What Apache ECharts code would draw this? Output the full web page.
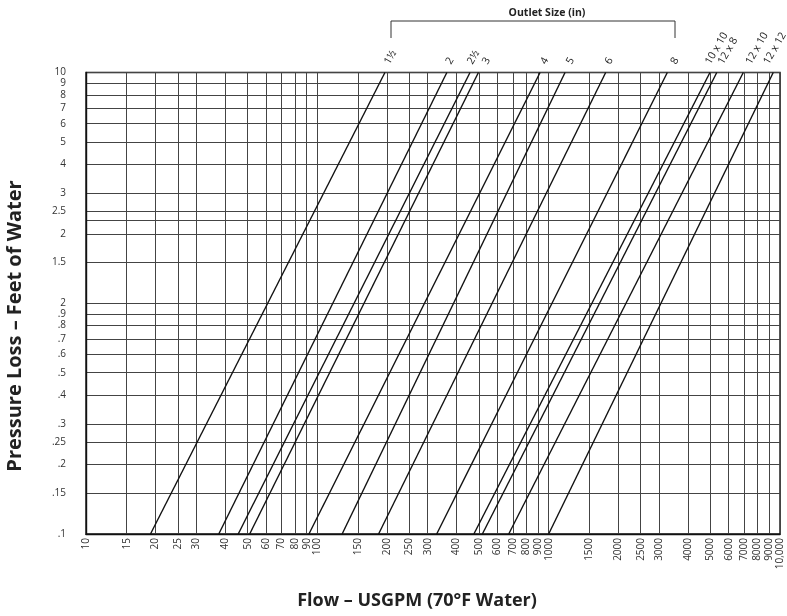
<!DOCTYPE html>
<html><head><meta charset="utf-8">
<script src="https://cdn.jsdelivr.net/npm/echarts@6/dist/echarts.min.js"></script>
<style>html,body{margin:0;padding:0;background:#fff}#c{width:787px;height:616px}</style>
</head><body><div id="c"></div>
<script>
// Outlet sizes (one straight line each on the log-log chart)
const outletSizes = ['1½', '2', '2½', '3', '4', '5', '6', '8', '10 x 10', '12 x 8', '12 x 10', '12 x 12'];
// Flow (USGPM) where each line crosses 0.1 ft and 10 ft of pressure loss
const flowAtLowLoss  = [19, 37.5, 45.5, 51, 92, 128, 184, 328, 475, 517, 672, 1000];
const flowAtHighLoss = [196, 363, 457, 497, 918, 1177, 1764, 3258, 4980, 5330, 6940, 9350];
const lossLow = 0.1;
const lossHigh = 10;

const xTickValues = [10, 15, 20, 25, 30, 40, 50, 60, 70, 80, 90, 100, 150, 200, 250, 300, 400, 500, 600, 700, 800, 900, 1000, 1500, 2000, 2500, 3000, 4000, 5000, 6000, 7000, 8000, 9000, 10000];
const xTickLabels = ['10', '15', '20', '25', '30', '40', '50', '60', '70', '80', '90', '100', '150', '200', '250', '300', '400', '500', '600', '700', '800', '900', '1000', '1500', '2000', '2500', '3000', '4000', '5000', '6000', '7000', '8000', '9000', '10,000'];
const yTickValues = [0.1, 0.15, 0.2, 0.25, 0.3, 0.4, 0.5, 0.6, 0.7, 0.8, 0.9, 1, 1.5, 2, 2.5, 3, 4, 5, 6, 7, 8, 9, 10];
const yTickLabels = ['.1', '.15', '.2', '.25', '.3', '.4', '.5', '.6', '.7', '.8', '.9', '2', '1.5', '2', '2.5', '3', '4', '5', '6', '7', '8', '9', '10'];
const yExtraGridValues = [2.28];

// label nudges (pixels, style only)
const labelNudgeX = [2, 1.5, 0, 6.5, 3, 4, 2, 6, -2, 4, 5, -7];

function lookup(values, labels) {
  return function (v) {
    let best = 0, bd = Infinity;
    for (let i = 0; i < values.length; i++) {
      const d = Math.abs(Math.log10(v) - Math.log10(values[i]));
      if (d < bd) { bd = d; best = i; }
    }
    return bd < 0.01 ? labels[best] : '';
  };
}

const FONT = '"Open Sans", "Noto Sans", sans-serif';

const series = outletSizes.map((name, i) => ({
  type: 'line',
  name: name,
  silent: true,
  animation: false,
  showSymbol: true,
  symbol: 'circle',
  symbolSize: 0,
  clip: false,
  lineStyle: { color: '#111', width: 1.4 },
  label: { show: false },
  data: [
    [flowAtLowLoss[i], lossLow],
    {
      value: [flowAtHighLoss[i], lossHigh],
      label: {
        show: true,
        formatter: name,
        rotate: 60,
        align: 'left',
        verticalAlign: 'middle',
        position: [labelNudgeX[i], -9],
        fontSize: 10.5,
        color: '#222',
        fontFamily: FONT
      }
    }
  ]
}));

const chart = echarts.init(document.getElementById('c'), null, { renderer: 'canvas' });
chart.setOption({
  animation: false,
  backgroundColor: '#fff',
  grid: { left: 86, right: 7, top: 72.5, bottom: 82, show: true, borderColor: '#111', borderWidth: 1.4, backgroundColor: 'transparent' },
  xAxis: {
    type: 'log', logBase: 10, min: 10, max: 10000,
    axisLine: { show: true, lineStyle: { color: '#111', width: 1.4 } },
    axisTick: { show: false, customValues: xTickValues },
    splitLine: { show: true, lineStyle: { color: '#444', width: 1 } },
    axisLabel: {
      customValues: xTickValues, rotate: 90, margin: 4, fontSize: 10, color: '#333', fontFamily: FONT,
      formatter: lookup(xTickValues, xTickLabels)
    }
  },
  yAxis: {
    type: 'log', logBase: 10, min: 0.1, max: 10,
    axisLine: { show: true, lineStyle: { color: '#111', width: 1.4 } },
    axisTick: { show: false, customValues: yTickValues.concat(yExtraGridValues) },
    splitLine: { show: true, lineStyle: { color: '#444', width: 1 } },
    axisLabel: {
      customValues: yTickValues, margin: 20, fontSize: 10, color: '#333', fontFamily: FONT,
      formatter: lookup(yTickValues, yTickLabels)
    }
  },
  series: series,
  graphic: [
    { type: 'text', x: 15, y: 326, rotation: Math.PI / 2,
      style: { text: 'Pressure Loss – Feet of Water', align: 'center', verticalAlign: 'middle', fontSize: 20, fontWeight: 'bold', fontFamily: FONT, fill: '#222' } },
    { type: 'text', x: 417, y: 601,
      style: { text: 'Flow – USGPM (70°F Water)', align: 'center', verticalAlign: 'middle', fontSize: 18, fontWeight: 'bold', fontFamily: FONT, fill: '#222' } },
    { type: 'text', x: 547, y: 13,
      style: { text: 'Outlet Size (in)', align: 'center', verticalAlign: 'middle', fontSize: 10.5, fontWeight: 'bold', fontFamily: FONT, fill: '#222' } },
    { type: 'polyline', shape: { points: [[391, 38], [391, 21], [675, 21], [675, 38]] },
      style: { stroke: '#333', lineWidth: 1, fill: null } }
  ]
});
</script>
</body></html>
